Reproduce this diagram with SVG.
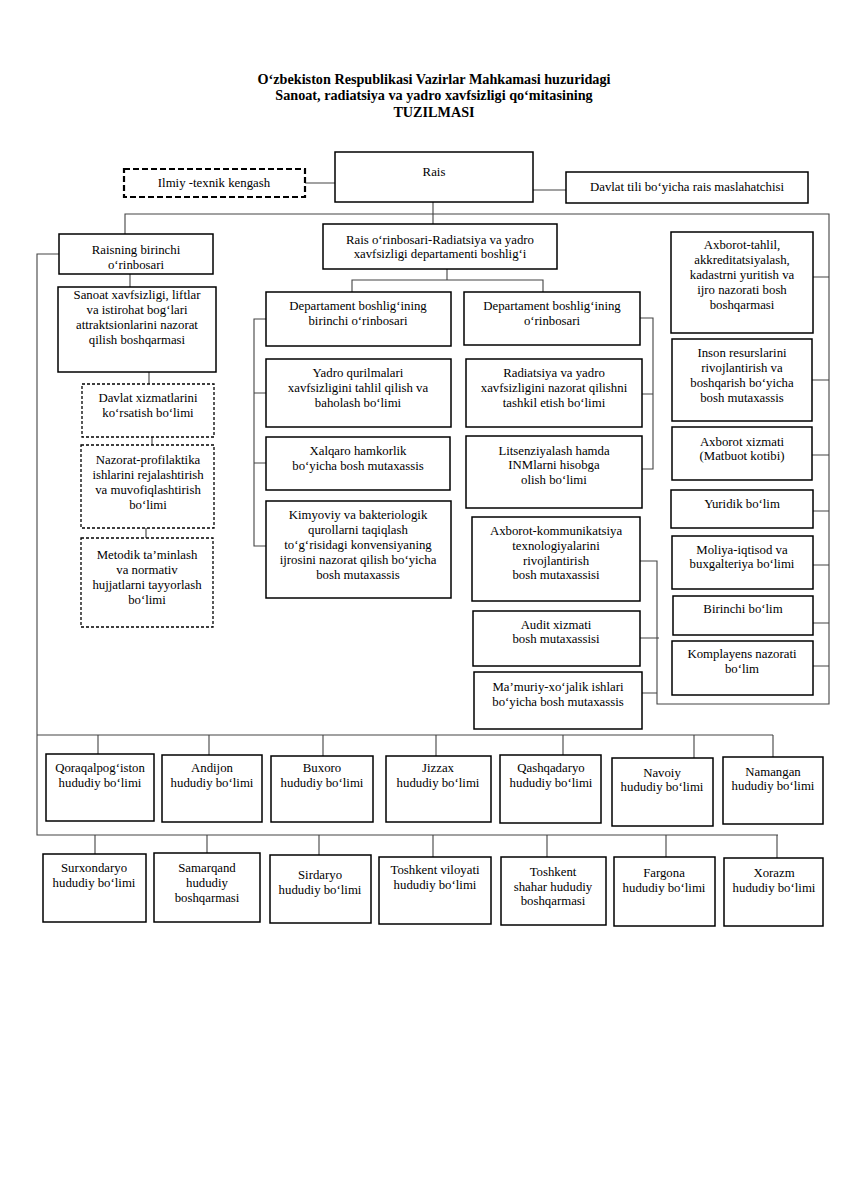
<svg xmlns="http://www.w3.org/2000/svg" width="848" height="1200" viewBox="0 0 848 1200">
<style>
.b{fill:#fff;stroke:#000;stroke-width:1.5}
.d{fill:#fff;stroke:#000;stroke-width:1.3;stroke-dasharray:3 2}
.dd{fill:#fff;stroke:#000;stroke-width:2.2;stroke-dasharray:6 3}
.c{fill:none;stroke:#444;stroke-width:1.1}
text{font-family:"Liberation Serif","Times New Roman",serif;font-size:12.8px;fill:#000;text-anchor:middle}
.t{font-size:14.2px;font-weight:bold}
</style>
<rect width="848" height="1200" fill="#fff"/>
<g id="title">
<text class="t" x="434" y="84">O‘zbekiston Respublikasi Vazirlar Mahkamasi huzuridagi</text>
<text class="t" x="434" y="100">Sanoat, radiatsiya va yadro xavfsizligi qo‘mitasining</text>
<text class="t" x="434" y="117">TUZILMASI</text>
</g>
<g id="connectors">
<path class="c" d="M305 183H335M533 190H566M433 202V224"/>
<path class="c" d="M125 234V214H829V704H657V561H640"/>
<path class="c" d="M813 277H829M812 380H829M812 455H829M813 511H829M813 565H829M813 623H829M813 666H829M640 638H659M642 693H657"/>
<path class="c" d="M59 254H37V835H778M37 735H773"/>
<path class="c" d="M130 274V287M149 372V384M152 437V445M146 528V538"/>
<path class="c" d="M447 269V280M352 292V280H543V292"/>
<path class="c" d="M266 319H254V546H266M254 393H266M254 463H266"/>
<path class="c" d="M640 318H653V469H642M642 394H653"/>
<path class="c" d="M98 735V754M209 735V755M323 735V756M436 735V756M563 735V755M694 735V758M773 735V757"/>
<path class="c" d="M95 835V854M207 835V853M319 835V855M433 835V857M547 835V857M666 835V857M777 835V858"/>
</g>
<g id="rais"><rect class="b" x="335" y="152" width="198" height="50"/><text x="434" y="176">Rais</text></g>
<g id="ilmiy"><rect class="dd" x="124" y="169" width="181" height="28"/><text x="214" y="187">Ilmiy -texnik kengash</text></g>
<g id="davlat-tili"><rect class="b" x="566" y="172" width="242" height="31"/><text x="687" y="191">Davlat tili bo‘yicha rais maslahatchisi</text></g>
<g id="raisning"><rect class="b" x="59" y="234" width="154" height="40"/><text x="136" y="254">Raisning birinchi</text><text x="136" y="269">o‘rinbosari</text></g>
<g id="rais-orinbosari"><rect class="b" x="323" y="224" width="234" height="45"/><text x="440" y="244">Rais o‘rinbosari-Radiatsiya va yadro</text><text x="440" y="258">xavfsizligi departamenti boshlig‘i</text></g>
<g id="sanoat"><rect class="b" x="58" y="287" width="158" height="85"/><text x="137" y="299">Sanoat xavfsizligi, liftlar</text><text x="137" y="314">va istirohat bog‘lari</text><text x="137" y="329">attraktsionlarini nazorat</text><text x="137" y="344">qilish boshqarmasi</text></g>
<g id="davlat-xizmat"><rect class="d" x="82" y="384" width="132" height="53"/><text x="148" y="402">Davlat xizmatlarini</text><text x="148" y="417">ko‘rsatish bo‘limi</text></g>
<g id="nazorat"><rect class="d" x="81" y="445" width="133" height="83"/><text x="148" y="464">Nazorat-profilaktika</text><text x="148" y="479">ishlarini rejalashtirish</text><text x="148" y="494">va muvofiqlashtirish</text><text x="148" y="509">bo‘limi</text></g>
<g id="metodik"><rect class="d" x="81" y="538" width="132" height="89"/><text x="147" y="559">Metodik ta’minlash</text><text x="147" y="574">va normativ</text><text x="147" y="589">hujjatlarni tayyorlash</text><text x="147" y="604">bo‘limi</text></g>
<g id="dept1"><rect class="b" x="266" y="292" width="185" height="54"/><text x="358" y="310">Departament boshlig‘ining</text><text x="358" y="325">birinchi o‘rinbosari</text></g>
<g id="dept2"><rect class="b" x="464" y="292" width="176" height="53"/><text x="552" y="310">Departament boshlig‘ining</text><text x="552" y="325">o‘rinbosari</text></g>
<g id="yadro"><rect class="b" x="266" y="359" width="185" height="68"/><text x="358" y="377">Yadro qurilmalari</text><text x="358" y="392">xavfsizligini tahlil qilish va</text><text x="358" y="407">baholash bo‘limi</text></g>
<g id="xalqaro"><rect class="b" x="266" y="437" width="184" height="53"/><text x="358" y="455">Xalqaro hamkorlik</text><text x="358" y="470">bo‘yicha bosh mutaxassis</text></g>
<g id="kimyoviy"><rect class="b" x="266" y="501" width="185" height="97"/><text x="358" y="519">Kimyoviy va bakteriologik</text><text x="358" y="534">qurollarni taqiqlash</text><text x="358" y="549">to‘g‘risidagi konvensiyaning</text><text x="358" y="564">ijrosini nazorat qilish bo‘yicha</text><text x="358" y="579">bosh mutaxassis</text></g>
<g id="radiatsiya"><rect class="b" x="466" y="359" width="176" height="68"/><text x="554" y="377">Radiatsiya va yadro</text><text x="554" y="392">xavfsizligini nazorat qilishni</text><text x="554" y="407">tashkil etish bo‘limi</text></g>
<g id="litsenziya"><rect class="b" x="466" y="436" width="176" height="72"/><text x="554" y="455">Litsenziyalash hamda</text><text x="554" y="469">INMlarni hisobga</text><text x="554" y="484">olish bo‘limi</text></g>
<g id="akt"><rect class="b" x="472" y="517" width="168" height="84"/><text x="556" y="535">Axborot-kommunikatsiya</text><text x="556" y="550">texnologiyalarini</text><text x="556" y="565">rivojlantirish</text><text x="556" y="579">bosh mutaxassisi</text></g>
<g id="audit"><rect class="b" x="473" y="611" width="167" height="55"/><text x="556" y="629">Audit xizmati</text><text x="556" y="643">bosh mutaxassisi</text></g>
<g id="mamuriy"><rect class="b" x="474" y="672" width="168" height="57"/><text x="558" y="691">Ma’muriy-xo‘jalik ishlari</text><text x="558" y="706">bo‘yicha bosh mutaxassis</text></g>
<g id="axborot-tahlil"><rect class="b" x="671" y="232" width="142" height="101"/><text x="742" y="249">Axborot-tahlil,</text><text x="742" y="264">akkreditatsiyalash,</text><text x="742" y="279">kadastrni yuritish va</text><text x="742" y="294">ijro nazorati bosh</text><text x="742" y="309">boshqarmasi</text></g>
<g id="inson"><rect class="b" x="672" y="339" width="140" height="82"/><text x="742" y="357">Inson resurslarini</text><text x="742" y="372">rivojlantirish va</text><text x="742" y="387">boshqarish bo‘yicha</text><text x="742" y="402">bosh mutaxassis</text></g>
<g id="axborot-xizmati"><rect class="b" x="672" y="427" width="140" height="53"/><text x="742" y="446">Axborot xizmati</text><text x="742" y="460">(Matbuot kotibi)</text></g>
<g id="yuridik"><rect class="b" x="671" y="490" width="142" height="38"/><text x="742" y="508">Yuridik bo‘lim</text></g>
<g id="moliya"><rect class="b" x="672" y="536" width="141" height="53"/><text x="742" y="554">Moliya-iqtisod va</text><text x="742" y="568">buxgalteriya bo‘limi</text></g>
<g id="birinchi"><rect class="b" x="673" y="596" width="140" height="39"/><text x="743" y="613">Birinchi bo‘lim</text></g>
<g id="komplayens"><rect class="b" x="672" y="641" width="141" height="54"/><text x="742" y="658">Komplayens nazorati</text><text x="742" y="673">bo‘lim</text></g>
<g id="qoraqalpogiston"><rect class="b" x="46" y="754" width="108" height="67"/><text x="100" y="772">Qoraqalpog‘iston</text><text x="100" y="787">hududiy bo‘limi</text></g>
<g id="andijon"><rect class="b" x="162" y="755" width="100" height="67"/><text x="212" y="772">Andijon</text><text x="212" y="787">hududiy bo‘limi</text></g>
<g id="buxoro"><rect class="b" x="271" y="756" width="102" height="66"/><text x="322" y="772">Buxoro</text><text x="322" y="787">hududiy bo‘limi</text></g>
<g id="jizzax"><rect class="b" x="386" y="756" width="105" height="66"/><text x="438" y="772">Jizzax</text><text x="438" y="787">hududiy bo‘limi</text></g>
<g id="qashqadaryo"><rect class="b" x="500" y="755" width="101" height="68"/><text x="551" y="772">Qashqadaryo</text><text x="551" y="787">hududiy bo‘limi</text></g>
<g id="navoiy"><rect class="b" x="612" y="758" width="101" height="68"/><text x="662" y="777">Navoiy</text><text x="662" y="791">hududiy bo‘limi</text></g>
<g id="namangan"><rect class="b" x="723" y="757" width="100" height="67"/><text x="773" y="776">Namangan</text><text x="773" y="790">hududiy bo‘limi</text></g>
<g id="surxondaryo"><rect class="b" x="43" y="854" width="103" height="68"/><text x="94" y="872">Surxondaryo</text><text x="94" y="887">hududiy bo‘limi</text></g>
<g id="samarqand"><rect class="b" x="154" y="853" width="106" height="69"/><text x="207" y="872">Samarqand</text><text x="207" y="887">hududiy</text><text x="207" y="902">boshqarmasi</text></g>
<g id="sirdaryo"><rect class="b" x="270" y="855" width="101" height="68"/><text x="320" y="879">Sirdaryo</text><text x="320" y="894">hududiy bo‘limi</text></g>
<g id="toshkent-viloyati"><rect class="b" x="379" y="857" width="112" height="67"/><text x="435" y="874">Toshkent viloyati</text><text x="435" y="889">hududiy bo‘limi</text></g>
<g id="toshkent-shahar"><rect class="b" x="501" y="857" width="105" height="68"/><text x="553" y="876">Toshkent</text><text x="553" y="891">shahar hududiy</text><text x="553" y="905">boshqarmasi</text></g>
<g id="fargona"><rect class="b" x="614" y="857" width="101" height="69"/><text x="664" y="877">Fargona</text><text x="664" y="892">hududiy bo‘limi</text></g>
<g id="xorazm"><rect class="b" x="724" y="858" width="99" height="68"/><text x="774" y="877">Xorazm</text><text x="774" y="892">hududiy bo‘limi</text></g>
</svg>
